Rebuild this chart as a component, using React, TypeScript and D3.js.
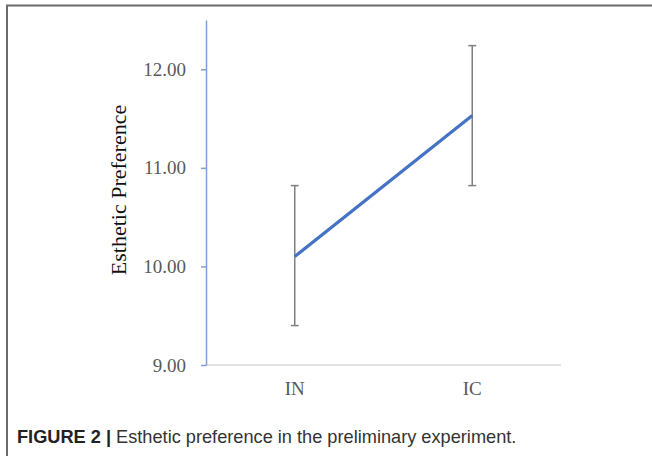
import React, { useRef, useEffect } from 'react';
import * as d3 from 'd3';

// condition means with error bar bounds
const categories = ['IN', 'IC'];
const means = [10.1, 11.53];
const upper = [10.82, 12.24];
const lower = [9.4, 10.82];
const yTicks = [9, 10, 11, 12];

const W = 652;
const H = 458;

const App = () => {
    const svgRef = useRef<SVGSVGElement>(null);

    useEffect(() => {
        const svg = d3.select(svgRef.current);
        svg.selectAll('*').remove();

        const marginLeft = 206;
        const marginRight = 91;
        const top = 20;
        const bottom = 365;

        const x = d3.scaleBand()
            .domain(categories)
            .range([marginLeft, W - marginRight]);

        const y = d3.scaleLinear()
            .domain([9, 12.5])
            .range([bottom, top]);

        const data = categories.map((c, i) => ({ c, m: means[i], hi: upper[i], lo: lower[i] }));
        const cx = (c: string) => (x(c) ?? 0) + x.bandwidth() / 2;

        // outer frame
        svg.append('path')
            .attr('d', `M7,456 V5.5 H652`)
            .attr('fill', 'none')
            .attr('stroke', '#6b6b6b')
            .attr('stroke-width', 2);

        // x axis line
        svg.append('line')
            .attr('x1', marginLeft).attr('x2', W - marginRight)
            .attr('y1', y(9)).attr('y2', y(9))
            .attr('stroke', '#d9d9d9')
            .attr('stroke-width', 1.5);

        // y axis
        const yAxis = svg.append('g')
            .attr('transform', `translate(${marginLeft},0)`)
            .call(d3.axisLeft(y).tickValues(yTicks).tickSize(5).tickSizeOuter(0).tickFormat(d3.format('.2f')));
        yAxis.select('.domain').attr('stroke', '#7f9fd8').attr('stroke-width', 1.5);
        yAxis.selectAll('.tick line').attr('stroke', '#7f9fd8').attr('stroke-width', 1.5);
        yAxis.selectAll('.tick text')
            .attr('x', -20)
            .attr('fill', '#595959')
            .attr('font-family', '"Liberation Serif", serif')
            .attr('font-size', 19);

        // x labels
        svg.append('g').selectAll('text')
            .data(categories)
            .join('text')
            .attr('x', d => cx(d))
            .attr('y', 395)
            .attr('text-anchor', 'middle')
            .attr('fill', '#595959')
            .attr('font-family', '"Liberation Serif", serif')
            .attr('font-size', 19)
            .text(d => d);

        // y title
        svg.append('text')
            .attr('transform', `translate(126,190) rotate(-90)`)
            .attr('text-anchor', 'middle')
            .attr('fill', '#111')
            .attr('font-family', '"Liberation Serif", serif')
            .attr('font-size', 22)
            .text('Esthetic Preference');

        // error bars
        const eb = svg.append('g').attr('stroke', '#808080').attr('stroke-width', 1.5);
        eb.selectAll('line.v')
            .data(data)
            .join('line')
            .attr('class', 'v')
            .attr('x1', d => cx(d.c)).attr('x2', d => cx(d.c))
            .attr('y1', d => y(d.hi)).attr('y2', d => y(d.lo));
        eb.selectAll('line.cap-hi')
            .data(data)
            .join('line')
            .attr('class', 'cap-hi')
            .attr('x1', d => cx(d.c) - 4).attr('x2', d => cx(d.c) + 4)
            .attr('y1', d => y(d.hi)).attr('y2', d => y(d.hi));
        eb.selectAll('line.cap-lo')
            .data(data)
            .join('line')
            .attr('class', 'cap-lo')
            .attr('x1', d => cx(d.c) - 4).attr('x2', d => cx(d.c) + 4)
            .attr('y1', d => y(d.lo)).attr('y2', d => y(d.lo));

        // mean line
        const line = d3.line<{ c: string; m: number }>()
            .x(d => cx(d.c))
            .y(d => y(d.m));
        svg.append('path')
            .datum(data)
            .attr('d', line)
            .attr('fill', 'none')
            .attr('stroke', '#4472c4')
            .attr('stroke-width', 3.2);

        // caption
        const cap = svg.append('text')
            .attr('x', 17)
            .attr('y', 443)
            .attr('font-family', '"Liberation Sans", Arial, sans-serif')
            .attr('font-size', 18.2)
            .attr('fill', '#333');
        cap.append('tspan').attr('font-weight', 'bold').attr('fill', '#222').text('FIGURE 2 | ');
        cap.append('tspan').text('Esthetic preference in the preliminary experiment.');
    }, []);

    return (
        <svg ref={svgRef} width={W} height={H} style={{ position: 'absolute', left: 0, top: 0, background: '#fff' }} />
    );
};

export default App;
